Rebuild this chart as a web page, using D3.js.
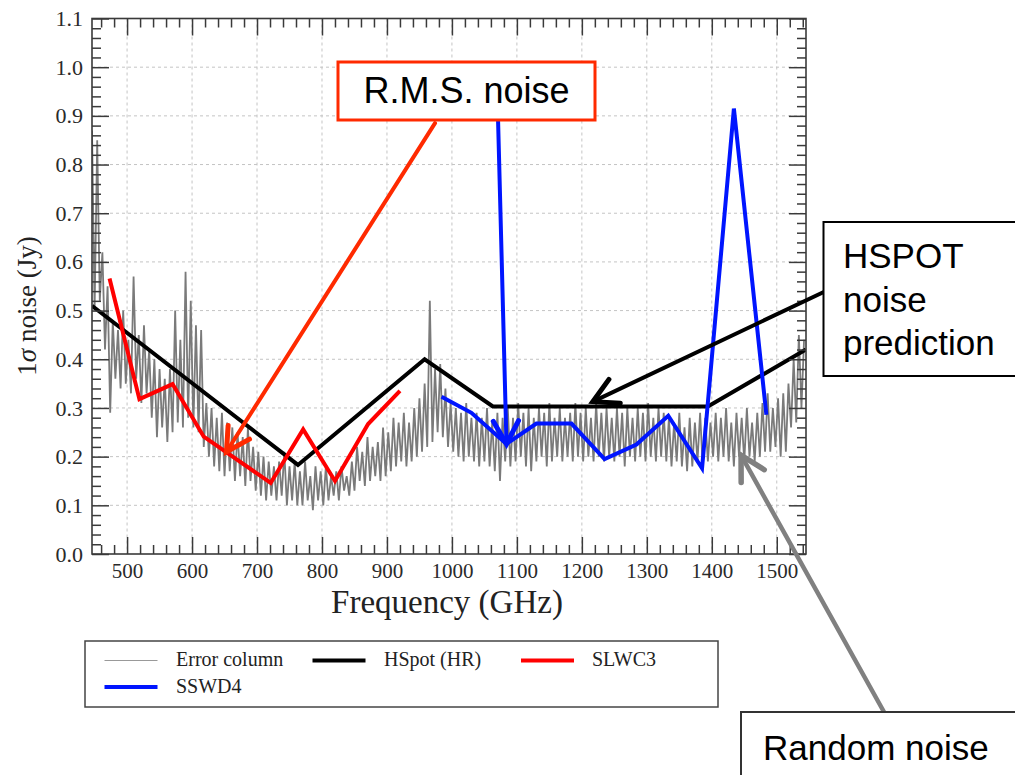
<!DOCTYPE html>
<html>
<head>
<meta charset="utf-8">
<script src="https://cdn.jsdelivr.net/npm/d3@7"></script>
<style>
  html, body { margin: 0; padding: 0; background: #fff; }
  svg { display: block; }
</style>
</head>
<body>
<svg id="chart" width="1015" height="775"></svg>
<script>
// ---------------- DATA ----------------
const xTicks = [500, 600, 700, 800, 900, 1000, 1100, 1200, 1300, 1400, 1500];
const yTicks = [0.0, 0.1, 0.2, 0.3, 0.4, 0.5, 0.6, 0.7, 0.8, 0.9, 1.0, 1.1];

// HSpot (HR) prediction
const hspotFreq = [446, 763, 958, 1063, 1394, 1545];
const hspotVal  = [0.51, 0.183, 0.40, 0.303, 0.303, 0.42];

// SLWC3 r.m.s. noise
const slwFreq = [473, 519, 570, 618, 721, 771, 820, 871, 920];
const slwVal  = [0.566, 0.318, 0.349, 0.241, 0.146, 0.256, 0.150, 0.267, 0.335];

// SSWD4 r.m.s. noise
const sswFreq = [984, 1030, 1084, 1130, 1184, 1235, 1284, 1333, 1385, 1434, 1484];
const sswVal  = [0.323, 0.290, 0.226, 0.268, 0.268, 0.195, 0.225, 0.284, 0.176, 0.915, 0.286];

// Error column (channel spacing 4 GHz starting at 446 GHz)
const errStart = 446, errStep = 4;
const errVal = [
  0.87,0.50,0.85,0.52,0.62,0.42,0.55,0.29,0.48,0.36,
  0.46,0.34,0.50,0.35,0.44,0.33,0.57,0.36,0.45,0.31,
  0.47,0.33,0.42,0.28,0.40,0.24,0.38,0.26,0.36,0.23,
  0.38,0.25,0.50,0.27,0.44,0.26,0.58,0.28,0.52,0.26,
  0.47,0.25,0.46,0.22,0.31,0.20,0.30,0.18,0.28,0.17,
  0.29,0.16,0.27,0.17,0.26,0.15,0.25,0.16,0.24,0.14,
  0.26,0.15,0.22,0.13,0.21,0.12,0.20,0.11,0.19,0.12,
  0.18,0.11,0.19,0.12,0.21,0.10,0.18,0.11,0.19,0.10,
  0.17,0.10,0.19,0.11,0.16,0.09,0.18,0.11,0.17,0.10,
  0.18,0.11,0.16,0.12,0.17,0.11,0.18,0.13,0.16,0.12,
  0.19,0.13,0.22,0.15,0.21,0.14,0.24,0.15,0.22,0.16,
  0.23,0.15,0.26,0.16,0.25,0.17,0.28,0.18,0.27,0.19,
  0.29,0.18,0.27,0.19,0.30,0.20,0.32,0.21,0.35,0.22,
  0.52,0.23,0.38,0.25,0.39,0.24,0.34,0.22,0.31,0.21,
  0.30,0.20,0.29,0.19,0.31,0.20,0.28,0.19,0.29,0.18,
  0.28,0.19,0.30,0.18,0.27,0.17,0.29,0.15,0.28,0.19,
  0.30,0.18,0.28,0.19,0.31,0.20,0.29,0.18,0.30,0.17,
  0.28,0.19,0.30,0.20,0.29,0.18,0.31,0.19,0.28,0.20,
  0.30,0.19,0.28,0.20,0.29,0.19,0.31,0.20,0.29,0.19,
  0.30,0.20,0.28,0.19,0.31,0.20,0.29,0.19,0.30,0.20,
  0.28,0.19,0.30,0.20,0.29,0.18,0.30,0.20,0.28,0.19,
  0.30,0.20,0.29,0.19,0.31,0.20,0.28,0.19,0.30,0.20,
  0.29,0.19,0.28,0.18,0.27,0.19,0.29,0.18,0.26,0.17,
  0.28,0.18,0.27,0.19,0.29,0.18,0.28,0.19,0.27,0.20,
  0.29,0.19,0.28,0.20,0.30,0.19,0.27,0.18,0.29,0.20,
  0.28,0.19,0.30,0.20,0.27,0.19,0.29,0.20,0.31,0.21,
  0.33,0.21,0.30,0.22,0.32,0.20,0.33,0.21,0.35,0.26,
  0.40,0.27,0.45,0.30,0.44
];

const legendItems = ["Error column", "HSpot (HR)", "SLWC3", "SSWD4"];

// ---------------- CHART ----------------
const svg = d3.select("#chart");
const plot = { left: 92, right: 806, top: 18.5, bottom: 554 };

const x = d3.scaleLinear().domain([446, 1545]).range([plot.left, plot.right]);
const y = d3.scaleLinear().domain([0, 1.1]).range([plot.bottom, plot.top]);

const serif = "'Liberation Serif', 'Times New Roman', serif";
const sans = "'Liberation Sans', Arial, sans-serif";

// grid
const grid = svg.append("g").attr("stroke", "#c4c4c4").attr("stroke-dasharray", "3,3").attr("stroke-width", 1);
xTicks.forEach(t => grid.append("line").attr("x1", x(t)).attr("x2", x(t)).attr("y1", plot.top).attr("y2", plot.bottom));
yTicks.filter(t => t > 0 && t < 1.1).forEach(t => grid.append("line").attr("y1", y(t)).attr("y2", y(t)).attr("x1", plot.left).attr("x2", plot.right));

// clip
svg.append("clipPath").attr("id", "clip").append("rect")
  .attr("x", plot.left).attr("y", plot.top).attr("width", plot.right - plot.left).attr("height", plot.bottom - plot.top);

const data = svg.append("g").attr("clip-path", "url(#clip)");
const line = d3.line().x(d => x(d[0])).y(d => y(d[1]));

const errData = errVal.map((v, i) => [errStart + i * errStep, v]);
data.append("path").datum(errData).attr("d", line)
  .attr("fill", "none").attr("stroke", "#7a7a7a").attr("stroke-width", 1.8)
  .attr("stroke-linejoin", "bevel");

const series = [
  { f: hspotFreq, v: hspotVal, c: "#000000" },
  { f: slwFreq, v: slwVal, c: "#ff0000" },
  { f: sswFreq, v: sswVal, c: "#0015ff" }
];
series.forEach(s => {
  data.append("path").datum(s.f.map((f, i) => [f, s.v[i]])).attr("d", line)
    .attr("fill", "none").attr("stroke", s.c).attr("stroke-width", 4)
    .attr("stroke-linejoin", "miter");
});

// axes
const axColor = "#3a3a3a";
function styleAxis(g) {
  g.select(".domain").remove();
  g.selectAll(".tick line").attr("stroke", axColor).attr("stroke-width", 1.5);
  g.selectAll("text").attr("font-family", serif).attr("fill", "#2a2a2a");
}
const xMinor = d3.range(460, 1545, 20).filter(v => v % 100 !== 0);
const yMinor = d3.range(0.02, 1.1, 0.02).filter(v => Math.abs(v * 10 - Math.round(v * 10)) > 1e-6);

svg.append("g").attr("transform", `translate(0,${plot.bottom})`)
  .call(d3.axisBottom(x).tickValues(xTicks).tickSize(-17).tickPadding(9).tickFormat(d3.format("d")))
  .call(styleAxis).call(g => g.selectAll("text").attr("font-size", 21));
svg.append("g").attr("transform", `translate(0,${plot.bottom})`)
  .call(d3.axisBottom(x).tickValues(xMinor).tickSize(-9).tickFormat("")).call(styleAxis);
svg.append("g").attr("transform", `translate(0,${plot.top})`)
  .call(d3.axisTop(x).tickValues(xTicks).tickSize(-17).tickFormat("")).call(styleAxis);
svg.append("g").attr("transform", `translate(0,${plot.top})`)
  .call(d3.axisTop(x).tickValues(xMinor).tickSize(-9).tickFormat("")).call(styleAxis);

svg.append("g").attr("transform", `translate(${plot.left},0)`)
  .call(d3.axisLeft(y).tickValues(yTicks).tickSize(-17).tickPadding(9).tickFormat(d3.format(".1f")))
  .call(styleAxis).call(g => g.selectAll("text").attr("font-size", 22));
svg.append("g").attr("transform", `translate(${plot.left},0)`)
  .call(d3.axisLeft(y).tickValues(yMinor).tickSize(-9).tickFormat("")).call(styleAxis);
svg.append("g").attr("transform", `translate(${plot.right},0)`)
  .call(d3.axisRight(y).tickValues(yTicks).tickSize(-17).tickFormat("")).call(styleAxis);
svg.append("g").attr("transform", `translate(${plot.right},0)`)
  .call(d3.axisRight(y).tickValues(yMinor).tickSize(-9).tickFormat("")).call(styleAxis);

// frame
svg.append("rect").attr("x", plot.left).attr("y", plot.top)
  .attr("width", plot.right - plot.left).attr("height", plot.bottom - plot.top)
  .attr("fill", "none").attr("stroke", axColor).attr("stroke-width", 1.6);

// axis titles
svg.append("text").attr("x", 447).attr("y", 613).attr("text-anchor", "middle")
  .attr("font-family", serif).attr("font-size", 33).attr("fill", "#222").text("Frequency (GHz)");
const yl = svg.append("text").attr("transform", "translate(36,306) rotate(-90)").attr("text-anchor", "middle")
  .attr("font-family", serif).attr("font-size", 27).attr("fill", "#222");
yl.append("tspan").text("1");
yl.append("tspan").attr("font-style", "italic").text("σ");
yl.append("tspan").text(" noise (Jy)");

// legend
const lg = svg.append("g");
lg.append("rect").attr("x", 85).attr("y", 641).attr("width", 633).attr("height", 66)
  .attr("fill", "#fff").attr("stroke", "#444").attr("stroke-width", 1.5);
const legPos = [
  { lx: 104.5, tx: 176, ly: 660.5, ty: 666, c: "#999", w: 1.2 },
  { lx: 312.5, tx: 384, ly: 660.5, ty: 666, c: "#000", w: 4 },
  { lx: 521,   tx: 592, ly: 660.5, ty: 666, c: "#ff0000", w: 4 },
  { lx: 104.5, tx: 176, ly: 687,   ty: 693, c: "#0015ff", w: 4 }
];
legendItems.forEach((name, i) => {
  const p = legPos[i];
  lg.append("line").attr("x1", p.lx).attr("x2", p.lx + 53).attr("y1", p.ly).attr("y2", p.ly)
    .attr("stroke", p.c).attr("stroke-width", p.w);
  lg.append("text").attr("x", p.tx).attr("y", p.ty).attr("font-family", serif).attr("font-size", 20)
    .attr("fill", "#222").text(name);
});

// ---------------- ANNOTATIONS ----------------
const ann = svg.append("g");
function arrow(x1, y1, x2, y2, color, width, head) {
  ann.append("line").attr("x1", x1).attr("y1", y1).attr("x2", x2).attr("y2", y2)
    .attr("stroke", color).attr("stroke-width", width).attr("stroke-linecap", "round");
  const dx = x2 - x1, dy = y2 - y1, L = Math.hypot(dx, dy);
  const ux = dx / L, uy = dy / L;
  const bx = x2 - ux * head, by = y2 - uy * head;
  const px = -uy * head * 0.55, py = ux * head * 0.55;
  ann.append("path").attr("d", `M${bx + px},${by + py}L${x2},${y2}L${bx - px},${by - py}`)
    .attr("fill", "none").attr("stroke", color).attr("stroke-width", width + 1)
    .attr("stroke-linecap", "round").attr("stroke-linejoin", "miter");
}

// R.M.S. noise callout
arrow(x(974), y(0.885), x(653), y(0.21), "#ff2a00", 4, 23);
arrow(x(1071), y(0.892), x(1084), y(0.226), "#0015ff", 4, 23);
ann.append("rect").attr("x", 338).attr("y", 62).attr("width", 257).attr("height", 58)
  .attr("fill", "#fff").attr("stroke", "#ff2a00").attr("stroke-width", 3);
ann.append("text").attr("x", 466.5).attr("y", 103).attr("text-anchor", "middle")
  .attr("font-family", sans).attr("font-size", 36).attr("fill", "#000").text("R.M.S. noise");

// HSPOT callout
arrow(828, 290, x(1217), y(0.313), "#000", 4, 24);
ann.append("rect").attr("x", 823.5).attr("y", 222).attr("width", 200).attr("height", 154)
  .attr("fill", "#fff").attr("stroke", "#000").attr("stroke-width", 2);
["HSPOT", "noise", "prediction"].forEach((t, i) => {
  ann.append("text").attr("x", 843).attr("y", 268 + i * 43.5).attr("font-family", sans)
    .attr("font-size", 35).attr("fill", "#000").text(t);
});

// Random noise callout
arrow(884, 712, x(1445), y(0.203), "#808080", 4.5, 24);
ann.append("rect").attr("x", 741).attr("y", 712).attr("width", 290).attr("height", 80)
  .attr("fill", "#fff").attr("stroke", "#333").attr("stroke-width", 2);
ann.append("text").attr("x", 763).attr("y", 760).attr("font-family", sans)
  .attr("font-size", 35).attr("fill", "#000").text("Random noise");
</script>
</body>
</html>
